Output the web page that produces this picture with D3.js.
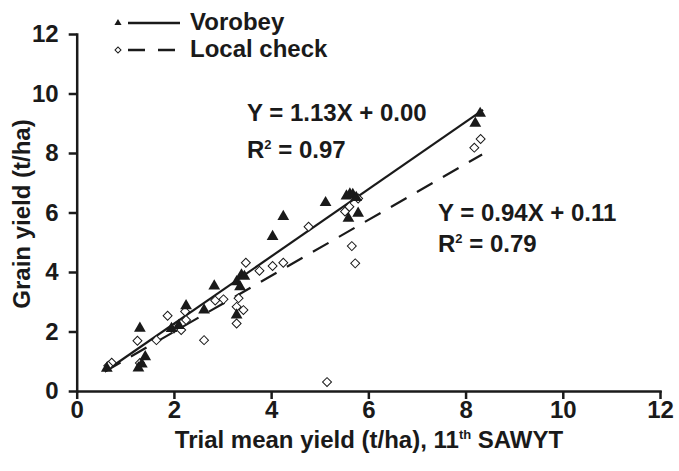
<!DOCTYPE html>
<html><head><meta charset="utf-8">
<script src="https://cdn.jsdelivr.net/npm/d3@7"></script>
<style>body{margin:0;background:#fff}svg{display:block}text{font-family:"Liberation Sans",Arial,sans-serif;font-weight:bold;fill:#1a1a1a}</style>
</head><body><svg id="c" width="679" height="471"></svg>
<script>
const xTicks=[0,2,4,6,8,10,12];
const yTicks=[0,2,4,6,8,10,12];
const vorobeyX=[0.62,1.27,1.34,1.41,1.30,1.95,2.1,2.25,2.62,2.83,3.29,3.29,3.36,3.39,3.45,4.03,4.25,5.12,5.55,5.62,5.68,5.75,5.59,5.79,8.2,8.30];
const vorobeyY=[0.76,0.77,0.9,1.15,2.11,2.1,2.2,2.86,2.72,3.53,2.55,3.67,3.5,3.9,3.85,5.19,5.86,6.33,6.55,6.62,6.6,6.5,5.80,5.97,9.0,9.33];
const localX=[0.72,0.65,1.25,1.3,1.64,1.87,2.0,2.15,2.23,2.25,2.62,2.85,3.02,3.33,3.29,3.43,3.29,3.48,3.76,4.03,4.25,4.77,5.15,5.52,5.61,5.79,5.66,5.73,8.18,8.31];
const localY=[0.95,0.85,1.69,0.94,1.71,2.53,2.1,2.05,2.67,2.39,1.71,3.04,3.08,3.12,2.83,2.72,2.27,4.31,4.04,4.20,4.31,5.52,0.30,6.03,6.19,6.47,4.87,4.29,8.18,8.47];
const fitV={slope:1.13,intercept:0.00,r2:"0.97",x0:0.58,x1:8.36,label:"Y = 1.13X + 0.00"};
const fitL={slope:0.94,intercept:0.11,r2:"0.79",x0:0.58,x1:8.34,label:"Y = 0.94X + 0.11"};
const seriesNames=["Vorobey","Local check"];
const xTitle="Trial mean yield (t/ha), 11";
const yTitle="Grain yield (t/ha)";

const svg=d3.select("#c");
const x=d3.scaleLinear().domain([0,12]).range([76.7,660]);
const y=d3.scaleLinear().domain([0,12]).range([391,34]);
const ink="#1a1a1a";
const FS="24px";

const gx=svg.append("g").attr("transform","translate(0,391)")
 .call(d3.axisBottom(x).tickValues(xTicks).tickSize(8).tickSizeOuter(0).tickPadding(2));
const gy=svg.append("g").attr("transform","translate(76.7,0)")
 .call(d3.axisLeft(y).tickValues(yTicks).tickSize(8).tickSizeOuter(0).tickPadding(10));
[gx,gy].forEach(g=>{g.selectAll("path,line").attr("stroke",ink).attr("stroke-width",2.5);
 g.selectAll("text").style("font-size",FS).attr("fill",ink);g.select(".domain").attr("stroke-linecap","square");});

function fitLine(f,dash){
 svg.append("line").attr("x1",x(f.x0)).attr("y1",y(f.slope*f.x0+f.intercept))
 .attr("x2",x(f.x1)).attr("y2",y(f.slope*f.x1+f.intercept))
 .attr("stroke",ink).attr("stroke-width",2.2).attr("stroke-dasharray",dash);
}
fitLine(fitV,null);
fitLine(fitL,"18,12");

const tri=d3.symbol().type(d3.symbolTriangle).size(60);
const sq=d3.symbol().type(d3.symbolSquare).size(40);
svg.append("g").selectAll("path").data(localX.map((v,i)=>[v,localY[i]])).join("path")
 .attr("d",sq).attr("transform",d=>`translate(${x(d[0])},${y(d[1])}) rotate(45)`)
 .attr("fill","#fff").attr("stroke",ink).attr("stroke-width",1);
svg.append("g").selectAll("path").data(vorobeyX.map((v,i)=>[v,vorobeyY[i]])).join("path")
 .attr("d",tri).attr("transform",d=>`translate(${x(d[0])},${y(d[1])})`)
 .attr("fill",ink);

const lg=svg.append("g");
lg.append("path").attr("d",d3.symbol().type(d3.symbolTriangle).size(22)).attr("transform","translate(118,23)").attr("fill",ink);
lg.append("line").attr("x1",128).attr("x2",180).attr("y1",23).attr("y2",23).attr("stroke",ink).attr("stroke-width",2.5);
lg.append("text").attr("x",190).attr("y",30).style("font-size",FS).text(seriesNames[0]);
lg.append("path").attr("d",d3.symbol().type(d3.symbolSquare).size(18)).attr("transform","translate(118,50) rotate(45)").attr("fill","#fff").attr("stroke",ink).attr("stroke-width",1);
lg.append("line").attr("x1",128).attr("x2",180).attr("y1",50).attr("y2",50).attr("stroke",ink).attr("stroke-width",2.5).attr("stroke-dasharray","17,13");
lg.append("text").attr("x",190).attr("y",57).style("font-size",FS).text(seriesNames[1]);

function eq(f,xx,yy,gap){
 svg.append("text").attr("x",xx).attr("y",yy).style("font-size",FS).text(f.label);
 const t=svg.append("text").attr("x",xx).attr("y",yy+gap).style("font-size",FS);
 t.append("tspan").text("R");
 t.append("tspan").attr("dy",-9).style("font-size","13px").text("2");
 t.append("tspan").attr("dy",9).text(" = "+f.r2);
}
eq(fitV,247,121,37);
eq(fitL,438,221,31);

const xt=svg.append("text").attr("x",369).attr("y",448).attr("text-anchor","middle").style("font-size",FS);
xt.append("tspan").text(xTitle);
xt.append("tspan").attr("dy",-9).style("font-size","13px").text("th");
xt.append("tspan").attr("dy",9).text(" SAWYT");
svg.append("text").attr("transform","translate(30,214) rotate(-90)").attr("text-anchor","middle").style("font-size",FS).text(yTitle);
</script></body></html>
